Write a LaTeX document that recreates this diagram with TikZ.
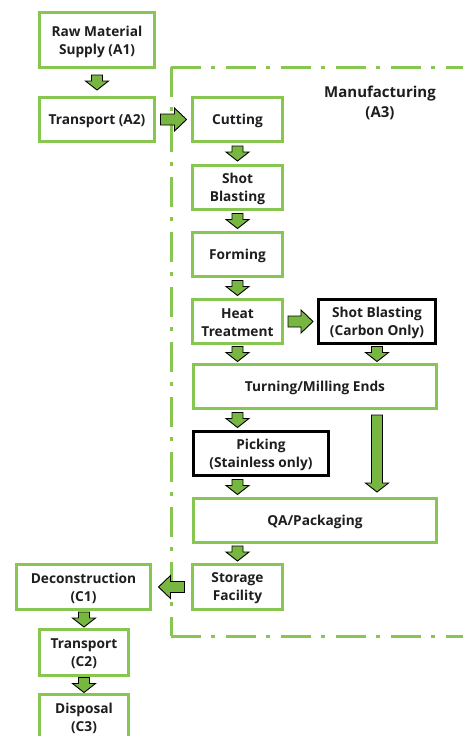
\documentclass[tikz,border=0pt]{standalone}
\usepackage{fontspec}
\setmainfont{Open Sans}
\usetikzlibrary{calc}
\definecolor{bgreen}{RGB}{136,198,82}
\definecolor{agreen}{RGB}{120,182,66}
\definecolor{txt}{RGB}{30,30,30}
\tikzset{
  gbox/.style={draw=bgreen, line width=3pt, fill=white, inner sep=0pt},
  kbox/.style={gbox, draw=black},
  btxt/.style={align=center, font=\fontsize{13.7}{18}\selectfont\bfseries, text=txt, inner sep=0pt, yshift=-1.5pt},
  barrow/.style={fill=agreen, draw=black, line width=0.9pt, line join=miter},
  frameline/.style={draw=bgreen, line width=3pt, dash pattern=on 30pt off 10pt on 4pt off 11pt},
  ttl/.style={align=center, font=\fontsize{15}{20}\selectfont\bfseries, text=txt, inner sep=0pt}
}
% vertical block arrow: #1 from, #2 to, #3 length
\newcommand\downarr[3]{%
  \draw[barrow] let \p1=#1, \p2=#2,
    \n1={0.5*(\y1+\y2)+0.5*#3}, \n2={0.5*(\y1+\y2)-0.5*#3+9}, \n3={0.5*(\y1+\y2)-0.5*#3} in
    (\x1-5.5pt,\n1*1pt) -- (\x1+5.5pt,\n1*1pt) -- (\x1+5.5pt,\n2*1pt) -- (\x1+11.5pt,\n2*1pt)
    -- (\x1,\n3*1pt) -- (\x1-11.5pt,\n2*1pt) -- (\x1-5.5pt,\n2*1pt) -- cycle;}
% horizontal block arrow: #1 from, #2 to, #3 length, #4 sign (1 right, -1 left)
\newcommand\horarr[4]{%
  \draw[barrow] let \p1=#1, \p2=#2,
    \n1={0.5*(\x1+\x2)-#4*0.5*#3}, \n2={0.5*(\x1+\x2)+#4*(0.5*#3-12)}, \n3={0.5*(\x1+\x2)+#4*0.5*#3} in
    (\n1*1pt,\y1+5.5pt) -- (\n2*1pt,\y1+5.5pt) -- (\n2*1pt,\y1+11.5pt) -- (\n3*1pt,\y1)
    -- (\n2*1pt,\y1-11.5pt) -- (\n2*1pt,\y1-5.5pt) -- (\n1*1pt,\y1-5.5pt) -- cycle;}
% box with text: #1 style, #2 name, #3 width, #4 height, #5 position, #6 text
\newcommand\boxnode[6]{%
  \node[#1, minimum width=#3, minimum height=#4] (#2) at #5 {};
  \node[btxt] (#2-t) at (#2.center) {#6};}
\begin{document}
\begin{tikzpicture}[x=1pt,y=-1pt]
\useasboundingbox (0,0) rectangle (463,736);
\fill[white] (0,0) rectangle (463,736);
\begin{scope}
\clip (0,0) rectangle (463,736);
% frame
\draw[frameline] (171,67) -- (475,67);
\draw[frameline] (171,67) -- (171,636);
\draw[frameline] (171,636) -- (475,636);
% boxes
\boxnode{gbox}{raw}{115}{55}{(97,40)}{Raw Material\\Supply (A1)}
\boxnode{gbox}{tr1}{115}{44}{(97,119.5)}{Transport (A2)}
\boxnode{gbox}{cut}{90}{44}{(237.5,119.5)}{Cutting}
\boxnode{gbox}{shot}{90}{44}{(237.5,187.5)}{Shot\\Blasting}
\boxnode{gbox}{form}{90}{44}{(237.5,254.5)}{Forming}
\boxnode{gbox}{heat}{90}{44}{(237.5,321.5)}{Heat\\Treatment}
\boxnode{kbox}{sbc}{117}{44}{(377,321.5)}{Shot Blasting\\(Carbon Only)}
\boxnode{gbox}{turn}{243}{44}{(315,386.5)}{Turning/Milling Ends}
\boxnode{kbox}{pick}{135}{44}{(261,453.5)}{Picking\\(Stainless only)}
\boxnode{gbox}{qa}{243}{44}{(315,520.5)}{QA/Packaging}
\boxnode{gbox}{stor}{90}{45}{(237.5,587)}{Storage\\Facility}
\boxnode{gbox}{dec}{134}{45}{(83.5,587)}{Deconstruction\\(C1)}
\boxnode{gbox}{tr2}{89}{46}{(84,652.5)}{Transport\\(C2)}
\boxnode{gbox}{disp}{89}{45}{(84,717)}{Disposal\\(C3)}
\node[ttl] (mfg) at (380,103) {Manufacturing\\(A3)};
% arrows
\downarr{(raw.south)}{(tr1.north)}{15}
\horarr{(tr1.east)}{(cut.west)}{26}{1}
\downarr{(cut.south)}{(shot.north)}{15}
\downarr{(shot.south)}{(form.north)}{15}
\downarr{(form.south)}{(heat.north)}{15}
\horarr{(heat.east)}{(sbc.west)}{25}{1}
\downarr{(heat.south)}{(turn.north)}{15}
\downarr{(sbc.south)}{(turn.north)}{15}
\downarr{(turn.south -| heat.south)}{(pick.north)}{15}
\downarr{(turn.south -| sbc.south)}{(qa.north -| sbc.south)}{77}
\downarr{(pick.south -| heat.south)}{(qa.north)}{15}
\downarr{(qa.south -| stor.north)}{(stor.north)}{15}
\horarr{(stor.west)}{(dec.east)}{26}{-1}
\downarr{(dec.south -| tr2.north)}{(tr2.north)}{15}
\downarr{(tr2.south)}{(disp.north)}{15}
\end{scope}
\end{tikzpicture}
\end{document}
